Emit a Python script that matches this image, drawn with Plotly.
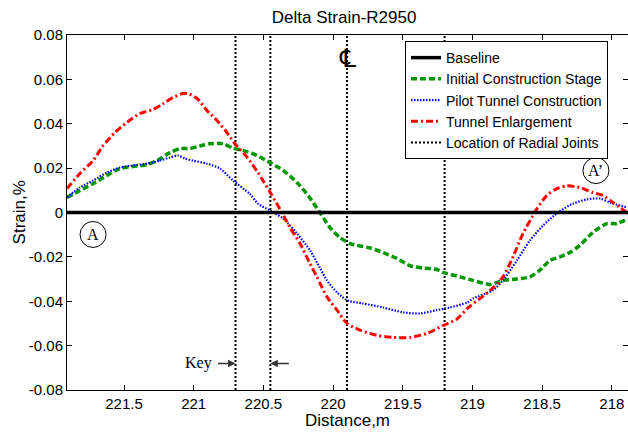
import plotly.graph_objects as go

# ---- data ----
initial_x = [221.909, 221.816, 221.722, 221.622, 221.529, 221.435, 221.335, 221.263, 221.170, 221.098,
             221.027, 220.955, 220.883, 220.790, 220.718, 220.646, 220.546, 220.453, 220.359, 220.259,
             220.180, 220.094, 220.022, 219.950, 219.879, 219.735, 219.642, 219.542, 219.448, 219.355,
             219.255, 219.212, 219.090, 218.996, 218.874, 218.781, 218.681, 218.588, 218.516, 218.444,
             218.372, 218.300, 218.229, 218.136, 218.035, 217.963, 217.892]
initial_y = [0.0068, 0.0099, 0.013, 0.0167, 0.0198, 0.0207, 0.0216, 0.0234, 0.027, 0.0288,
             0.0288, 0.030, 0.031, 0.031, 0.029, 0.028, 0.0257, 0.0225, 0.019, 0.0135,
             0.0077, 0.0, -0.0068, -0.0113, -0.014, -0.016, -0.018, -0.0207, -0.024, -0.025,
             -0.0257, -0.027, -0.029, -0.0306, -0.0324, -0.0306, -0.030, -0.029, -0.026, -0.0216,
             -0.020, -0.018, -0.0148, -0.009, -0.005, -0.005, -0.003]

pilot_x = [221.909, 221.816, 221.722, 221.622, 221.529, 221.435, 221.335, 221.242, 221.170, 221.113,
           221.062, 221.005, 220.905, 220.811, 220.718, 220.596, 220.539, 220.453, 220.359, 220.259,
           220.166, 220.094, 220.044, 219.972, 219.893, 219.786, 219.642, 219.499, 219.377, 219.255,
           219.161, 219.039, 218.996, 218.853, 218.781, 218.681, 218.588, 218.494, 218.387, 218.279,
           218.179, 218.085, 218.014, 217.892]
pilot_y = [0.0068, 0.0113, 0.0144, 0.018, 0.0203, 0.0212, 0.022, 0.0234, 0.0248, 0.0257,
           0.0243, 0.0234, 0.022, 0.0198, 0.0144, 0.0083, 0.004, 0.0009, -0.0027, -0.0095,
           -0.017, -0.025, -0.0306, -0.036, -0.0397, -0.041, -0.0428, -0.045, -0.0455, -0.044,
           -0.0428, -0.0406, -0.0388, -0.035, -0.0306, -0.0216, -0.0126, -0.0059, 0.0, 0.004,
           0.0059, 0.0063, 0.0045, 0.0023]

enlarge_x = [221.909, 221.816, 221.722, 221.651, 221.565, 221.479, 221.385, 221.292, 221.220, 221.149,
             221.077, 221.041, 220.976, 220.905, 220.833, 220.761, 220.704, 220.618, 220.539, 220.503,
             220.438, 220.367, 220.309, 220.237, 220.166, 220.116, 220.044, 219.972, 219.900, 219.807,
             219.685, 219.570, 219.448, 219.326, 219.212, 219.111, 219.032, 218.946, 218.853, 218.781,
             218.709, 218.638, 218.573, 218.537, 218.466, 218.394, 218.322, 218.229, 218.136, 218.064,
             217.992, 217.892]
enlarge_y = [0.0108, 0.0176, 0.0234, 0.030, 0.036, 0.0406, 0.0446, 0.0464, 0.049, 0.0518,
             0.0536, 0.0536, 0.0514, 0.046, 0.0415, 0.036, 0.031, 0.025, 0.018, 0.0144,
             0.0077, 0.0, -0.0068, -0.014, -0.023, -0.029, -0.038, -0.044, -0.050, -0.053,
             -0.0554, -0.0563, -0.0563, -0.0545, -0.051, -0.048, -0.043, -0.0388, -0.034, -0.029,
             -0.020, -0.0095, -0.0022, 0.0018, 0.0077, 0.0108, 0.012, 0.0113, 0.009, 0.0077,
             0.0045, 0.0]

baseline_x = [221.909, 217.884]
baseline_y = [0, 0]

joint_positions = [220.7, 220.45, 219.9, 219.2]

x_ticks = [221.5, 221, 220.5, 220, 219.5, 219, 218.5, 218]
x_tick_labels = ["221.5", "221", "220.5", "220", "219.5", "219", "218.5", "218"]
y_ticks = [-0.08, -0.06, -0.04, -0.02, 0, 0.02, 0.04, 0.06, 0.08]
y_tick_labels = ["-0.08", "-0.06", "-0.04", "-0.02", "0", "0.02", "0.04", "0.06", "0.08"]

# ---- figure ----
SANS = "Liberation Sans, Arial, sans-serif"
SERIF = "Liberation Serif, Times New Roman, serif"

fig = go.Figure()

jx, jy = [], []
for p in joint_positions:
    jx += [p, p, None]
    jy += [-0.08, 0.08, None]
fig.add_trace(go.Scatter(x=jx, y=jy, mode="lines", name="Location of Radial Joints",
                         line=dict(color="black", width=2, dash="2px,2px"), legendrank=5))

fig.add_trace(go.Scatter(x=initial_x, y=initial_y, mode="lines", name="Initial Construction Stage",
                         line=dict(color="rgb(0,150,0)", width=3.5, dash="6px,3px", shape="spline", smoothing=0.7),
                         legendrank=2))
fig.add_trace(go.Scatter(x=pilot_x, y=pilot_y, mode="lines", name="Pilot Tunnel Construction",
                         line=dict(color="rgb(0,0,255)", width=2.2, dash="1.5px,1.5px", shape="spline", smoothing=0.7),
                         legendrank=3))
fig.add_trace(go.Scatter(x=enlarge_x, y=enlarge_y, mode="lines", name="Tunnel Enlargement",
                         line=dict(color="rgb(255,0,0)", width=3, dash="7px,3px,2px,3px", shape="spline", smoothing=0.7),
                         legendrank=4))
fig.add_trace(go.Scatter(x=baseline_x, y=baseline_y, mode="lines", name="Baseline",
                         line=dict(color="black", width=3.5), legendrank=1))

# circles A and A'
for cx, cy, label in [(221.722, -0.0099, "A"), (218.114, 0.0189, "A\u2019")]:
    fig.add_shape(type="circle", xref="x", yref="y", xsizemode="pixel", ysizemode="pixel",
                  xanchor=cx, yanchor=cy, x0=-13, x1=13, y0=-13, y1=13,
                  line=dict(color="black", width=1))
    fig.add_annotation(x=cx, y=cy, text=label, showarrow=False,
                       font=dict(family=SERIF, size=16, color="black"))

# centre line symbol
fig.add_annotation(x=219.9, y=0.0695, text="\u2104", showarrow=False,
                   font=dict(family="DejaVu Serif, DejaVu Sans, serif", size=25, color="black"))

# Key with arrows
fig.add_annotation(x=220.969, y=-0.068, text="Key", showarrow=False,
                   font=dict(family=SERIF, size=16, color="black"))
fig.add_annotation(x=220.7, y=-0.068, ax=-19, ay=0, axref="pixel", ayref="pixel", text="",
                   showarrow=True, arrowhead=2, arrowsize=1, arrowwidth=1.5, arrowcolor="#333333")
fig.add_annotation(x=220.45, y=-0.068, ax=20, ay=0, axref="pixel", ayref="pixel", text="",
                   showarrow=True, arrowhead=2, arrowsize=1, arrowwidth=1.5, arrowcolor="#333333")

# axis titles as annotations (paper coords)
fig.add_annotation(xref="paper", yref="paper", x=-0.084, y=0.5, text="Strain,%", textangle=-90,
                   showarrow=False, xanchor="center", yanchor="middle",
                   font=dict(family=SANS, size=17, color="black"))
fig.add_annotation(xref="paper", yref="paper", x=0.5, y=-0.087, text="Distance,m",
                   showarrow=False, xanchor="center", yanchor="middle",
                   font=dict(family=SANS, size=17, color="black"))

fig.update_layout(
    width=628, height=435,
    margin=dict(l=67, r=0, t=35, b=45, autoexpand=False),
    paper_bgcolor="white", plot_bgcolor="white",
    font=dict(family=SANS, size=15, color="black"),
    title=dict(text="Delta Strain-R2950", x=0.548, xanchor="center", y=0.961, yanchor="middle",
               font=dict(family=SANS, size=17, color="black")),
    showlegend=True,
    legend=dict(x=0.6025, y=0.983, xanchor="left", yanchor="top",
                bgcolor="white", bordercolor="black", borderwidth=1,
                font=dict(family=SANS, size=14, color="black"), tracegroupgap=0),
)
fig.update_xaxes(range=[221.909, 217.884], tickvals=x_ticks, ticktext=x_tick_labels,
                 ticks="inside", ticklen=5, tickcolor="black", showline=True, linecolor="black",
                 linewidth=1, mirror="allticks", showgrid=False, zeroline=False, automargin=False,
                 tickfont=dict(family=SANS, size=15))
fig.update_yaxes(range=[-0.08, 0.08], tickvals=y_ticks, ticktext=y_tick_labels,
                 ticks="inside", ticklen=5, tickcolor="black", showline=True, linecolor="black",
                 linewidth=1, mirror="allticks", showgrid=False, zeroline=False, automargin=False,
                 tickfont=dict(family=SANS, size=15))

# remove the page's default body margin so the figure fills the window exactly
fig.write_html("out.html", config={"displayModeBar": False},
               post_script="document.body.style.margin='0px';")
